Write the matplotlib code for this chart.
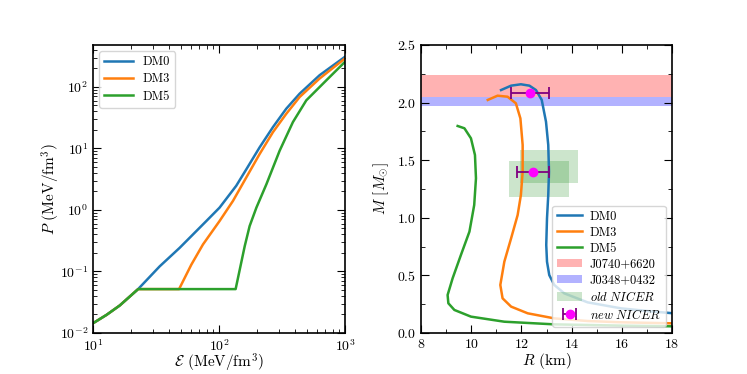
"""
EoS and mass-radius curves for the DM0 / DM3 / DM5 models.
"""
import matplotlib
matplotlib.use("Agg")
import matplotlib.pyplot as plt
from matplotlib.ticker import MultipleLocator, LogLocator, NullFormatter

plt.rcParams["font.family"] = "serif"
plt.rcParams["font.serif"] = ["cmr10"]
plt.rcParams["mathtext.fontset"] = "cm"
plt.rcParams["axes.formatter.use_mathtext"] = True
plt.rcParams["axes.unicode_minus"] = False

# ---- EoS data (energy density, pressure), MeV/fm^3 ----
eps_dm0 = [10, 12.8, 16.3, 22.8, 33.8, 48.7, 79.3, 101, 137, 165, 210, 268, 342, 437, 629, 1000]
p_dm0 = [0.0144, 0.0197, 0.028, 0.0517, 0.121, 0.242, 0.66, 1.09, 2.47, 4.6, 10.4, 22.2, 44.3, 77.8, 155, 309]

eps_dm3 = [10, 12.8, 16.3, 22.8, 48.2, 60.3, 74.6, 101, 129, 165, 210, 268, 342, 437, 629, 1000]
p_dm3 = [0.0144, 0.0197, 0.028, 0.0517, 0.0517, 0.129, 0.275, 0.66, 1.40, 3.4, 8.1, 18.4, 36.6, 68.7, 137, 290]

eps_dm5 = [10, 12.8, 16.3, 22.8, 135.5, 160, 175, 198, 238, 303, 386, 493, 711, 1000]
p_dm5 = [0.0144, 0.0197, 0.028, 0.0517, 0.0517, 0.258, 0.547, 1.09, 2.63, 9.2, 26.8, 60.5, 128, 256]

# ---- Mass-radius data (km, M_sun) ----
r_dm0 = [11.19, 11.59, 11.98, 12.32, 12.58, 12.81, 12.98, 13.07, 13.10, 13.07, 13.02,
         12.99, 13.02, 13.11, 13.31, 13.71, 14.64, 15.97, 17.30, 18.0]
m_dm0 = [2.109, 2.147, 2.159, 2.147, 2.109, 2.023, 1.834, 1.632, 1.40, 1.198, 0.995,
         0.764, 0.619, 0.503, 0.417, 0.344, 0.266, 0.214, 0.185, 0.172]

r_dm3 = [10.66, 11.05, 11.45, 11.78, 11.96, 12.05, 12.05, 11.98, 11.85, 11.59, 11.32,
         11.16, 11.25, 11.59, 12.25, 13.31, 14.64, 15.97, 18.0]
m_dm3 = [2.023, 2.06, 2.051, 1.994, 1.863, 1.632, 1.40, 1.198, 1.024, 0.822, 0.619,
         0.417, 0.301, 0.229, 0.171, 0.127, 0.104, 0.093, 0.084]

r_dm5 = [9.46, 9.73, 9.99, 10.15, 10.19, 10.12, 9.93, 9.59, 9.26, 9.06, 9.09, 9.33,
         9.99, 11.32, 13.31, 15.97, 18.0]
m_dm5 = [1.797, 1.777, 1.690, 1.545, 1.343, 1.111, 0.880, 0.677, 0.475, 0.330, 0.258, 0.200,
         0.142, 0.098, 0.075, 0.064, 0.058]

# observational constraints
j0740_band = (2.05, 2.24)
j0348_band = (1.97, 2.05)
old_nicer = [(11.49, 13.88, 1.18, 1.49), (11.94, 14.27, 1.30, 1.59)]  # R0, R1, M0, M1
new_nicer_r = [12.34, 12.45]
new_nicer_m = [2.08, 1.40]
new_nicer_rerr = [[0.75, 0.64], [0.77, 0.66]]

C0, C1, C2 = "#1f77b4", "#ff7f0e", "#2ca02c"


def style_axes(ax):
    ax.tick_params(which="both", direction="in", top=True, right=True, labelsize=10)
    ax.tick_params(which="major", length=6)
    ax.tick_params(which="minor", length=3)
    for s in ax.spines.values():
        s.set_linewidth(1.2)


fig = plt.figure(figsize=(7.47, 3.74), dpi=100)
ax1 = fig.add_axes([93 / 747, 1 - 333 / 374, 252 / 747, 288 / 374])
ax2 = fig.add_axes([421 / 747, 1 - 333 / 374, 251 / 747, 288 / 374])

# left: EoS
ax1.plot(eps_dm0, p_dm0, color=C0, lw=1.8, label="DM0")
ax1.plot(eps_dm3, p_dm3, color=C1, lw=1.8, label="DM3")
ax1.plot(eps_dm5, p_dm5, color=C2, lw=1.8, label="DM5")
ax1.set_xscale("log")
ax1.set_yscale("log")
ax1.set_xlim(10, 1000)
ax1.set_ylim(1e-2, 480)
ax1.yaxis.set_major_locator(LogLocator(base=10, numticks=10))
ax1.yaxis.set_minor_locator(LogLocator(base=10, subs=range(2, 10), numticks=20))
ax1.yaxis.set_minor_formatter(NullFormatter())
ax1.set_xlabel(r"$\mathcal{E}$ (MeV/fm$^3$)", fontsize=11, labelpad=-1)
ax1.set_ylabel(r"$P$ (MeV/fm$^3$)", fontsize=11, labelpad=-2)
ax1.legend(loc="upper left", fontsize=9, handlelength=2.3, labelspacing=0.4)
style_axes(ax1)

# right: M-R
ax2.axhspan(*j0740_band, color="red", alpha=0.3, lw=0, label="J0740+6620")
ax2.axhspan(*j0348_band, color="blue", alpha=0.3, lw=0, label="J0348+0432")
for i, (r0, r1, m0, m1) in enumerate(old_nicer):
    ax2.fill_between([r0, r1], m0, m1, color="green", alpha=0.2, lw=0,
                     label=r"$\mathit{old\ NICER}$" if i == 0 else None)
ax2.plot(r_dm0, m_dm0, color=C0, lw=1.8, label="DM0")
ax2.plot(r_dm3, m_dm3, color=C1, lw=1.8, label="DM3")
ax2.plot(r_dm5, m_dm5, color=C2, lw=1.8, label="DM5")
ax2.errorbar(new_nicer_r, new_nicer_m, xerr=new_nicer_rerr, fmt="o", color="magenta",
             ecolor="purple", elinewidth=1.3, capsize=4, capthick=1.3, ms=6, zorder=5,
             label=r"$\mathit{new\ NICER}$")
ax2.set_xlim(8, 18)
ax2.set_ylim(0, 2.5)
ax2.xaxis.set_major_locator(MultipleLocator(2))
ax2.xaxis.set_minor_locator(MultipleLocator(1))
ax2.yaxis.set_major_locator(MultipleLocator(0.5))
ax2.yaxis.set_minor_locator(MultipleLocator(0.25))
ax2.set_xlabel(r"$R$ (km)", fontsize=11, labelpad=0)
ax2.set_ylabel(r"$M$ $[M_{\odot}]$", fontsize=11)

handles, labels = ax2.get_legend_handles_labels()
order = ["DM0", "DM3", "DM5", "J0740+6620", "J0348+0432",
         r"$\mathit{old\ NICER}$", r"$\mathit{new\ NICER}$"]
hmap = dict(zip(labels, handles))
ax2.legend([hmap[k] for k in order], order, loc="lower right", fontsize=9,
           handlelength=2.0, handletextpad=0.6, labelspacing=0.3, borderpad=0.4)
style_axes(ax2)

fig.savefig("out.png", dpi=100)
